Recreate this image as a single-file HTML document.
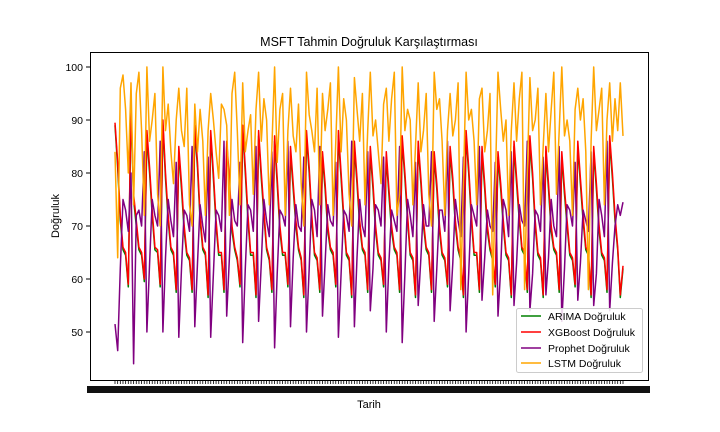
<!DOCTYPE html>
<html><head><meta charset="utf-8">
<style>
body{margin:0;background:#fff;}
svg{display:block;font-family:"Liberation Sans","DejaVu Sans",sans-serif;}
</style></head>
<body>
<svg id="chart" width="720" height="432" viewBox="0 0 720 432">
<rect width="720" height="432" fill="#fff"/>
<text x="369" y="46" text-anchor="middle" font-size="12.5">MSFT Tahmin Doğruluk Karşılaştırması</text>
<g id="yaxis"></g>
<g id="xaxis"></g>
<g id="series"></g>
<rect x="90.5" y="52.5" width="558" height="328" fill="none" stroke="#000" stroke-width="1"/>
<text x="369" y="408" text-anchor="middle" font-size="11">Tarih</text>
<text x="59" y="216" text-anchor="middle" font-size="11" transform="rotate(-90 59 216)">Doğruluk</text>
<g>
<rect x="516.5" y="308.5" width="126" height="64" rx="2" fill="#fff" fill-opacity="0.85" stroke="#ccc"/>
<g><line x1="521" y1="316" x2="541" y2="316" stroke="green" stroke-width="1.5"/><text x="548" y="320" font-size="10.5">ARIMA Doğruluk</text></g>
<g><line x1="521" y1="332" x2="541" y2="332" stroke="red" stroke-width="1.5"/><text x="548" y="336" font-size="10.5">XGBoost Doğruluk</text></g>
<g><line x1="521" y1="348" x2="541" y2="348" stroke="purple" stroke-width="1.5"/><text x="548" y="352" font-size="10.5">Prophet Doğruluk</text></g>
<g><line x1="521" y1="363" x2="541" y2="363" stroke="orange" stroke-width="1.5"/><text x="548" y="367" font-size="10.5">LSTM Doğruluk</text></g>
</g>
</svg>
<script>
const yTicks=[50,60,70,80,90,100];
const xgboost=[89.5,82,72,66,65,59, 93,76,71,66,65,60, 88,81,73,66,65.5,59, 90,80,72,66,65,58, 85,78,70,65,64,58, 89,82,72,66,65,57, 88,80,71,65,65,58, 86,79,70,66,64,59, 89,81,72,65,65,57, 88,80,73,66,64,58, 87,79,70,65,65,59, 85,78,71,66,64,57, 88,81,72,65,64,58, 84,78,70,66,65,59, 88,80,72,65,64,57, 86,79,71,66,65,58, 85,78,70,65,64,59, 84,77,70,66,65,58, 87,80,72,65,64,57, 86,79,71,66,65,58, 84,78,70,65,64,59, 85,79,71,66,64,57, 88,81,72,65,65,58, 85,78,70,66,64,59, 84,78,71,65,64,57, 86,79,72,66,65,58, 87,80,71,65,64,57, 85,78,70,66,65,58, 84,77,71,65,64,59, 86,79,72,66,65,57, 85,78,70,65,64,58, 87,80,72,66,57,62.5];
const arima=[89,81,71,65.5,64.5,58.5, 92,75,70,65.5,64.5,59.5, 87,80,72,65.5,65,58.5, 89,79,71,65.5,64.5,57.5, 84,77,69,64.5,63.5,57.5, 88,81,71,65.5,64.5,56.5, 87,79,70,64.5,64.5,57.5, 85,78,69,65.5,63.5,58.5, 88,80,71,64.5,64.5,56.5, 87,79,72,65.5,63.5,57.5, 86,78,69,64.5,64.5,58.5, 84,77,70,65.5,63.5,56.5, 87,80,71,64.5,63.5,57.5, 83,77,69,65.5,64.5,58.5, 87,79,71,64.5,63.5,56.5, 85,78,70,65.5,64.5,57.5, 84,77,69,64.5,63.5,58.5, 83,76,69,65.5,64.5,57.5, 86,79,71,64.5,63.5,56.5, 85,78,70,65.5,64.5,57.5, 83,77,69,64.5,63.5,58.5, 84,78,70,65.5,63.5,56.5, 87,80,71,64.5,64.5,57.5, 84,77,69,65.5,63.5,58.5, 83,77,70,64.5,63.5,56.5, 85,78,71,65.5,64.5,57.5, 86,79,70,64.5,63.5,56.5, 84,77,69,65.5,64.5,57.5, 83,76,70,64.5,63.5,58.5, 85,78,71,65.5,64.5,56.5, 84,77,69,64.5,63.5,57.5, 86,79,71,65.5,56.5,62];
const prophet=[51.5,46.5,62,75,73,69, 80,44,72,73,70,84, 50,63,75,72,70,86, 50,64,75,71,68,82, 49,62,73,72,69,85, 51,63,74,70,67,83, 49,61,73,72,69,86, 53,64,75,71,70,82, 48,62,74,73,69,85, 52,63,75,71,68,84, 47,61,73,72,70,86, 51,64,74,70,69,83, 50,62,75,73,68,85, 53,63,74,71,70,82, 49,61,73,72,69,86, 51,64,75,70,68,84, 54,62,74,73,70,83, 50,63,73,71,69,85, 48,61,75,72,68,82, 55,64,74,70,70,84, 52,62,73,73,69,86, 54,63,75,71,68,83, 50,61,74,72,70,85, 56,64,73,70,69,82, 53,62,75,73,68,84, 55,63,74,71,70,86, 54,61,73,72,69,83, 57,64,75,70,68,85, 52,62,74,73,70,82, 56,63,73,71,69,84, 55,61,75,72,68,86, 54,63,70,74,72,74.5];
const lstm=[84,64,96,98.5,92,80, 97,74,95,99,88,72, 100,86,90,95,76,70, 100,88,93,84,78,90, 96,88,85,96,74,70, 93,84,92,86,72,88, 95,90,84,79,93,92, 89,72,95,99,88,74, 97,84,88,91,76,92, 99,86,94,90,74,85, 100,82,92,95,72,88, 96,87,84,93,78,70, 99,91,88,84,96,74, 95,88,92,97,72,86, 100,84,94,90,76,70, 98,92,86,95,74,88, 99,87,90,84,78,93, 96,86,94,99,72,76, 100,88,92,90,74,85, 97,84,88,95,76,70, 99,92,94,86,72,88, 95,87,90,97,58,78, 99,90,92,86,74,94, 96,84,88,95,57,78, 99,92,86,90,72,88, 97,86,94,99,58,80, 98,88,90,96,74,85, 95,84,92,99,76,88, 100,87,90,86,72,92, 96,90,94,84,58,86, 100,88,92,96,74,90, 97,86,94,88,97,87];
const X0=115,X1=623,YT=67,PXU=5.3;
const xs=i=>X0+i*(X1-X0)/(xgboost.length-1);
const ys=v=>YT+(100-v)*PXU;
const NS="http://www.w3.org/2000/svg";
const ya=document.getElementById('yaxis');
yTicks.forEach(t=>{
 const l=document.createElementNS(NS,'line');
 
 
 l.setAttribute('x1',86);l.setAttribute('x2',90.5);l.setAttribute('y1',ys(t));l.setAttribute('y2',ys(t));l.setAttribute('stroke','#000');
 ya.appendChild(l);
 const tx=document.createElementNS(NS,'text');
 
 
 tx.setAttribute('x',83);tx.setAttribute('y',ys(t)+4);tx.setAttribute('text-anchor','end');tx.setAttribute('font-size','10.5');
 tx.textContent=t;ya.appendChild(tx);
});
const xa=document.getElementById('xaxis');
for(let i=0;i<xgboost.length;i++){
 const l=document.createElementNS(NS,'line');
 
 
 l.setAttribute('x1',xs(i));l.setAttribute('x2',xs(i));l.setAttribute('y1',380.5);l.setAttribute('y2',384);l.setAttribute('stroke','#000');l.setAttribute('stroke-width','0.8');
 xa.appendChild(l);
}
const blob=document.createElementNS(NS,'rect');


blob.setAttribute('x',87);blob.setAttribute('y',386);blob.setAttribute('width',563);blob.setAttribute('height',7);blob.setAttribute('fill','#111');
xa.appendChild(blob);
const sg=document.getElementById('series');
[[arima,'green','arima-line'],[xgboost,'red','xgboost-line'],[prophet,'purple','prophet-line'],[lstm,'orange','lstm-line']].forEach(([d,c,n])=>{
 const p=document.createElementNS(NS,'polyline');
 
 
 p.setAttribute('points',d.map((v,i)=>xs(i).toFixed(1)+','+ys(v).toFixed(1)).join(' '));
 p.setAttribute('fill','none');p.setAttribute('stroke',c);p.setAttribute('stroke-width','1.5');p.setAttribute('stroke-linejoin','round');
 sg.appendChild(p);
});
</script>
</body></html>
